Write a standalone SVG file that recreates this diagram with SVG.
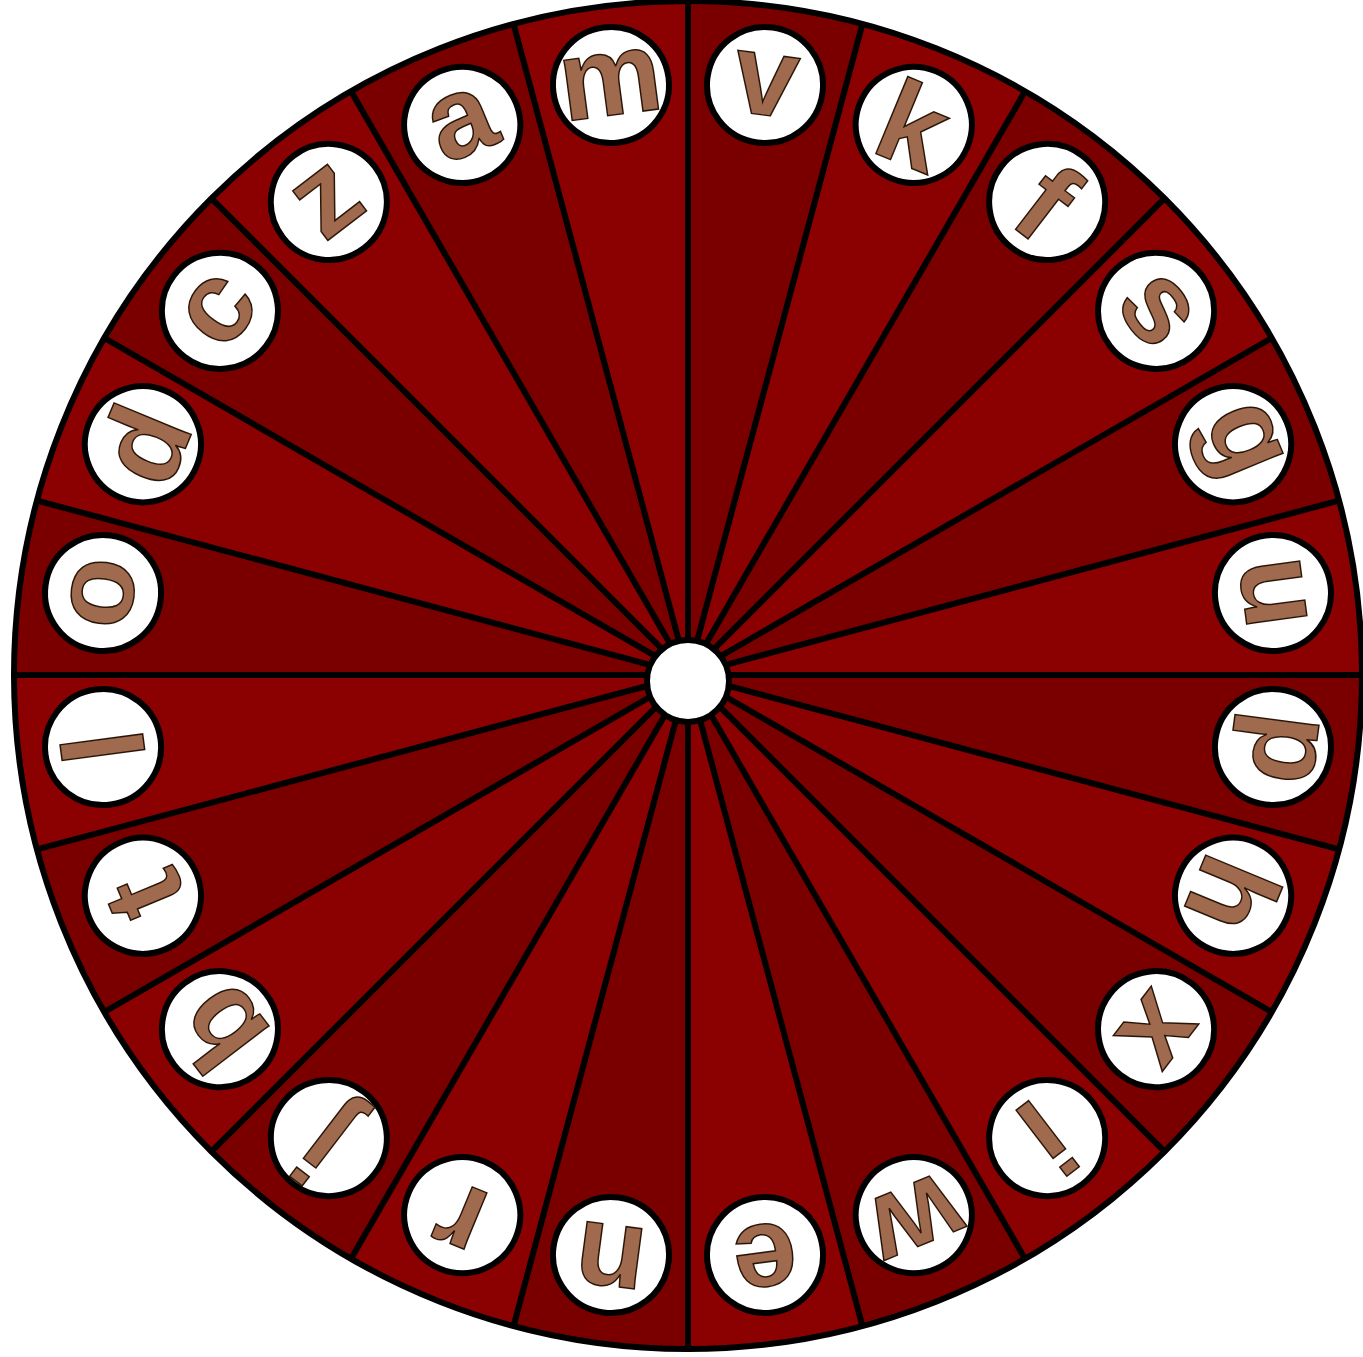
<svg xmlns="http://www.w3.org/2000/svg" width="1363" height="1357" viewBox="0 0 1363 1357">
<style>
.lt{fill:#8b0000}
.dk{fill:#7a0000}
.ln{stroke:#000;stroke-width:6;fill:none}
.disc{fill:#fff;stroke:#000;stroke-width:6}
.let{font-family:"Liberation Sans",Arial,sans-serif;font-weight:bold;font-size:115px;fill:#a06a4e;stroke:#2a1608;stroke-width:1.5;text-anchor:middle}
</style>
<rect width="1363" height="1357" fill="#fff"/>
<g id="wheel">
<circle cx="688" cy="675" r="674" class="lt"/>
<path class="dk" d="M688 675L688 1A674 674 0 0 1 862.44 23.97Z"/>
<path class="dk" d="M688 675L1025 91.3A674 674 0 0 1 1164.59 198.41Z"/>
<path class="dk" d="M688 675L1271.7 338A674 674 0 0 1 1339.03 500.56Z"/>
<path class="dk" d="M688 675L1362 675A674 674 0 0 1 1339.03 849.44Z"/>
<path class="dk" d="M688 675L1271.7 1012A674 674 0 0 1 1164.59 1151.59Z"/>
<path class="dk" d="M688 675L1025 1258.7A674 674 0 0 1 862.44 1326.03Z"/>
<path class="dk" d="M688 675L688 1349A674 674 0 0 1 513.56 1326.03Z"/>
<path class="dk" d="M688 675L351 1258.7A674 674 0 0 1 211.41 1151.59Z"/>
<path class="dk" d="M688 675L104.3 1012A674 674 0 0 1 36.97 849.44Z"/>
<path class="dk" d="M688 675L14 675A674 674 0 0 1 36.97 500.56Z"/>
<path class="dk" d="M688 675L104.3 338A674 674 0 0 1 211.41 198.41Z"/>
<path class="dk" d="M688 675L351 91.3A674 674 0 0 1 513.56 23.97Z"/>
</g>
<g id="connectors" class="ln">
<path d="M688 1L688 1349"/>
<path d="M862.44 23.97L513.56 1326.03"/>
<path d="M1025 91.3L351 1258.7"/>
<path d="M1164.59 198.41L211.41 1151.59"/>
<path d="M1271.7 338L104.3 1012"/>
<path d="M1339.03 500.56L36.97 849.44"/>
<path d="M1362 675L14 675"/>
<path d="M1339.03 849.44L36.97 500.56"/>
<path d="M1271.7 1012L104.3 338"/>
<path d="M1164.59 1151.59L211.41 198.41"/>
<path d="M1025 1258.7L351 91.3"/>
<path d="M862.44 1326.03L513.56 23.97"/>
<circle cx="688" cy="675" r="674"/>
</g>
<g id="n-v" transform="translate(688 670) rotate(7.5)"><circle class="disc" cx="0" cy="-590" r="58"/><text class="let" x="0" y="-560">v</text></g>
<g id="n-k" transform="translate(688 670) rotate(22.5)"><circle class="disc" cx="0" cy="-590" r="58"/><text class="let" x="0" y="-549">k</text></g>
<g id="n-f" transform="translate(688 670) rotate(37.5)"><circle class="disc" cx="0" cy="-590" r="58"/><text class="let" x="0" y="-549">f</text></g>
<g id="n-s" transform="translate(688 670) rotate(52.5)"><circle class="disc" cx="0" cy="-590" r="58"/><text class="let" x="0" y="-560">s</text></g>
<g id="n-g" transform="translate(688 670) rotate(67.5)"><circle class="disc" cx="0" cy="-590" r="58"/><text class="let" x="0" y="-572">g</text></g>
<g id="n-u" transform="translate(688 670) rotate(82.5)"><circle class="disc" cx="0" cy="-590" r="58"/><text class="let" x="0" y="-560">u</text></g>
<g id="n-p" transform="translate(688 670) rotate(97.5)"><circle class="disc" cx="0" cy="-590" r="58"/><text class="let" x="0" y="-572">p</text></g>
<g id="n-h" transform="translate(688 670) rotate(112.5)"><circle class="disc" cx="0" cy="-590" r="58"/><text class="let" x="0" y="-549">h</text></g>
<g id="n-x" transform="translate(688 670) rotate(127.5)"><circle class="disc" cx="0" cy="-590" r="58"/><text class="let" x="0" y="-560">x</text></g>
<g id="n-i" transform="translate(688 670) rotate(142.5)"><circle class="disc" cx="0" cy="-590" r="58"/><text class="let" x="0" y="-549">i</text></g>
<g id="n-w" transform="translate(688 670) rotate(157.5)"><circle class="disc" cx="0" cy="-590" r="58"/><text class="let" x="0" y="-560">w</text></g>
<g id="n-e" transform="translate(688 670) rotate(172.5)"><circle class="disc" cx="0" cy="-590" r="58"/><text class="let" x="0" y="-560">e</text></g>
<g id="n-n" transform="translate(688 670) rotate(187.5)"><circle class="disc" cx="0" cy="-590" r="58"/><text class="let" x="0" y="-560">n</text></g>
<g id="n-r" transform="translate(688 670) rotate(202.5)"><circle class="disc" cx="0" cy="-590" r="58"/><text class="let" x="0" y="-560">r</text></g>
<g id="n-j" transform="translate(688 670) rotate(217.5)"><circle class="disc" cx="0" cy="-590" r="58"/><text class="let" x="0" y="-561">j</text></g>
<g id="n-b" transform="translate(688 670) rotate(232.5)"><circle class="disc" cx="0" cy="-590" r="58"/><text class="let" x="0" y="-549">b</text></g>
<g id="n-t" transform="translate(688 670) rotate(247.5)"><circle class="disc" cx="0" cy="-590" r="58"/><text class="let" x="0" y="-550">t</text></g>
<g id="n-l" transform="translate(688 670) rotate(262.5)"><circle class="disc" cx="0" cy="-590" r="58"/><text class="let" x="0" y="-549">l</text></g>
<g id="n-o" transform="translate(688 670) rotate(277.5)"><circle class="disc" cx="0" cy="-590" r="58"/><text class="let" x="0" y="-560">o</text></g>
<g id="n-d" transform="translate(688 670) rotate(292.5)"><circle class="disc" cx="0" cy="-590" r="58"/><text class="let" x="0" y="-549">d</text></g>
<g id="n-c" transform="translate(688 670) rotate(307.5)"><circle class="disc" cx="0" cy="-590" r="58"/><text class="let" x="0" y="-560">c</text></g>
<g id="n-z" transform="translate(688 670) rotate(322.5)"><circle class="disc" cx="0" cy="-590" r="58"/><text class="let" x="0" y="-560">z</text></g>
<g id="n-a" transform="translate(688 670) rotate(337.5)"><circle class="disc" cx="0" cy="-590" r="58"/><text class="let" x="0" y="-560">a</text></g>
<g id="n-m" transform="translate(688 670) rotate(352.5)"><circle class="disc" cx="0" cy="-590" r="58"/><text class="let" x="0" y="-560">m</text></g>
<g id="hub"><circle class="disc" cx="688" cy="681" r="41"/></g>
</svg>
